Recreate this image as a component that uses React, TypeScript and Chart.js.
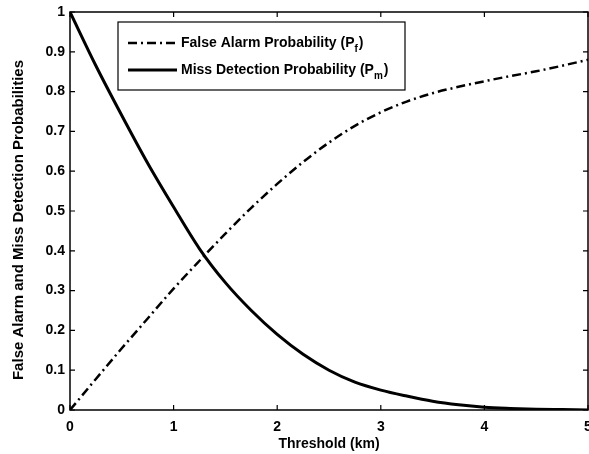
import React, { useEffect, useRef } from "react";
import { Chart, registerables } from "chart.js";

Chart.register(...registerables);

const thresholds = [0, 0.25, 0.5, 0.75, 1, 1.25, 1.5, 1.75, 2, 2.25, 2.5, 2.75, 3, 3.25, 3.5, 3.75, 4, 4.25, 4.5, 4.75, 5];
const falseAlarm = [0, 0.078, 0.155, 0.23, 0.305, 0.375, 0.443, 0.508, 0.568, 0.623, 0.672, 0.714, 0.748, 0.775, 0.796, 0.812, 0.826, 0.839, 0.851, 0.865, 0.88];
const missDetection = [1, 0.865, 0.74, 0.62, 0.51, 0.405, 0.32, 0.25, 0.19, 0.14, 0.1, 0.07, 0.05, 0.035, 0.022, 0.013, 0.007, 0.004, 0.002, 0.001, 0];
const xTicks = [0, 1, 2, 3, 4, 5];
const yTicks = [0, 0.1, 0.2, 0.3, 0.4, 0.5, 0.6, 0.7, 0.8, 0.9, 1];
const xTitle = "Threshold (km)";
const yTitle = "False Alarm and Miss Detection Probabilities";

const FONT = "'Liberation Sans', Arial, sans-serif";
const DASHDOT = [9, 4, 2, 4];

const framePlugin = {
  id: "frame",
  afterDraw(chart: any) {
    const { ctx, chartArea } = chart;
    const { left, right, top, bottom } = chartArea;
    const xs = chart.scales.x;
    const ys = chart.scales.y;
    ctx.save();
    ctx.strokeStyle = "#000";
    ctx.lineWidth = 1.5;
    ctx.setLineDash([]);
    ctx.strokeRect(left, top, right - left, bottom - top);
    ctx.lineWidth = 1.2;
    const tl = 5;
    ctx.beginPath();
    xTicks.forEach((v) => {
      const px = xs.getPixelForValue(v);
      ctx.moveTo(px, bottom);
      ctx.lineTo(px, bottom - tl);
      ctx.moveTo(px, top);
      ctx.lineTo(px, top + tl);
    });
    yTicks.forEach((v) => {
      const py = ys.getPixelForValue(v);
      ctx.moveTo(left, py);
      ctx.lineTo(left + tl, py);
      ctx.moveTo(right, py);
      ctx.lineTo(right - tl, py);
    });
    ctx.stroke();

    // axis titles
    ctx.fillStyle = "#000";
    ctx.textAlign = "center";
    ctx.textBaseline = "middle";
    ctx.font = "bold 14px " + FONT;
    ctx.fillText(xTitle, (left + right) / 2, 444);
    ctx.save();
    ctx.translate(19, 220);
    ctx.rotate(-Math.PI / 2);
    ctx.font = "bold 15px " + FONT;
    ctx.fillText(yTitle, 0, 0);
    ctx.restore();

    // legend
    const bx = 118, by = 22, bw = 287, bh = 68;
    ctx.fillStyle = "#fff";
    ctx.fillRect(bx, by, bw, bh);
    ctx.lineWidth = 1.2;
    ctx.strokeRect(bx, by, bw, bh);
    const rows = [
      { label: "False Alarm Probability (P", sub: "f", dash: DASHDOT, w: 2.5 },
      { label: "Miss Detection Probability (P", sub: "m", dash: [], w: 3 },
    ];
    rows.forEach((r, i) => {
      const y = by + 21 + i * 27;
      ctx.beginPath();
      ctx.setLineDash(r.dash);
      ctx.lineWidth = r.w;
      ctx.moveTo(128, y);
      ctx.lineTo(177, y);
      ctx.stroke();
      ctx.setLineDash([]);
      ctx.fillStyle = "#000";
      ctx.font = "bold 14px " + FONT;
      ctx.textBaseline = "middle";
      ctx.textAlign = "left";
      let x = 181;
      ctx.fillText(r.label, x, y);
      x += ctx.measureText(r.label).width;
      ctx.font = "bold 10px " + FONT;
      ctx.fillText(r.sub, x, y + 6);
      x += ctx.measureText(r.sub).width + 1;
      ctx.font = "bold 14px " + FONT;
      ctx.fillText(")", x, y);
    });
    ctx.restore();
  },
};

export default function App() {
  const ref = useRef<HTMLCanvasElement>(null);
  useEffect(() => {
    document.body.style.margin = "0";
    const chart = new Chart(ref.current!, {
      type: "line",
      data: {
        datasets: [
          {
            label: "False Alarm Probability",
            data: thresholds.map((t, i) => ({ x: t, y: falseAlarm[i] })),
            borderColor: "#000",
            borderWidth: 2.5,
            borderDash: DASHDOT,
            pointRadius: 0,
            cubicInterpolationMode: "monotone",
          },
          {
            label: "Miss Detection Probability",
            data: thresholds.map((t, i) => ({ x: t, y: missDetection[i] })),
            borderColor: "#000",
            borderWidth: 3,
            pointRadius: 0,
            cubicInterpolationMode: "monotone",
          },
        ],
      },
      options: {
        animation: false,
        responsive: false,
        maintainAspectRatio: false,
        layout: { padding: { top: 12, right: 1, left: 0, bottom: 0 } },
        plugins: { legend: { display: false }, tooltip: { enabled: false } },
        scales: {
          x: {
            type: "linear",
            min: 0,
            max: 5,
            afterBuildTicks: (s: any) => {
              s.ticks = xTicks.map((v) => ({ value: v }));
            },
            afterFit: (s: any) => {
              s.height = 44;
              s.paddingLeft = 0;
              s.paddingRight = 0;
            },
            grid: { display: false, drawTicks: false },
            border: { display: false },
            ticks: {
              color: "#000",
              font: { family: FONT, size: 14, weight: "bold" },
              padding: 9,
              maxRotation: 0,
            },
            title: { display: false },
          },
          y: {
            type: "linear",
            min: 0,
            max: 1,
            afterBuildTicks: (s: any) => {
              s.ticks = yTicks.map((v) => ({ value: v }));
            },
            afterFit: (s: any) => {
              s.width = 70;
              s.paddingTop = 0;
              s.paddingBottom = 0;
            },
            grid: { display: false, drawTicks: false },
            border: { display: false },
            ticks: {
              color: "#000",
              font: { family: FONT, size: 14, weight: "bold" },
              padding: 5,
              callback: (v: any) => String(Math.round(v * 10) / 10),
            },
            title: { display: false },
          },
        },
      },
      plugins: [framePlugin],
    } as any);
    return () => chart.destroy();
  }, []);
  return (
    <div style={{ position: "absolute", left: 0, top: 0, width: 589, height: 454, background: "#fff" }}>
      <canvas ref={ref} width={589} height={454} style={{ width: 589, height: 454 }} />
    </div>
  );
}
